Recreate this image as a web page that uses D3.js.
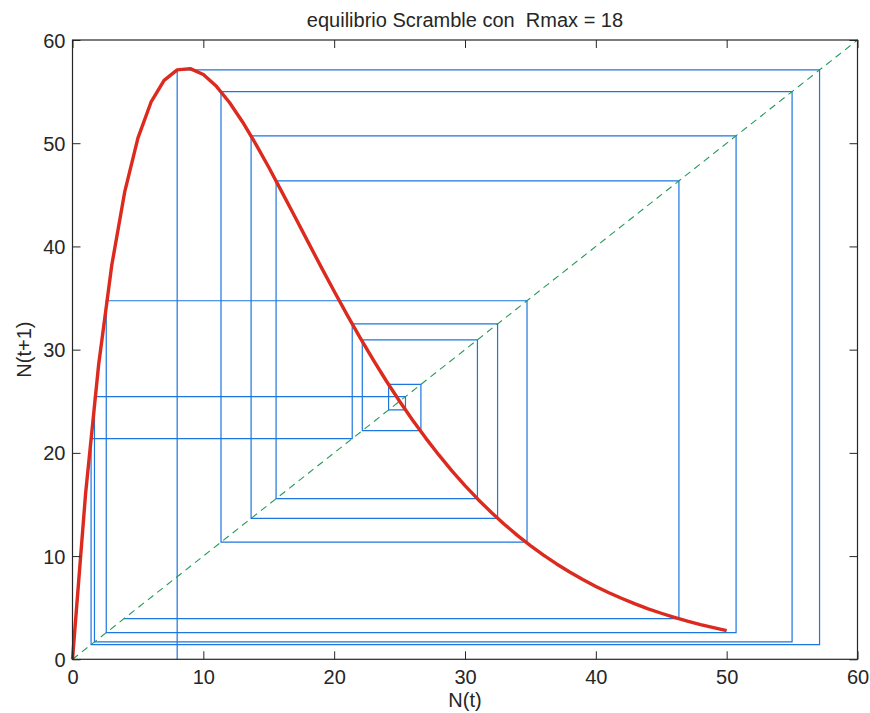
<!DOCTYPE html>
<html>
<head>
<meta charset="utf-8">
<script src="https://cdn.jsdelivr.net/npm/d3@7"></script>
<style>
  html, body { margin: 0; padding: 0; background: #fff; }
  svg { display: block; }
  text { font-family: "Liberation Sans", Arial, Helvetica, sans-serif; fill: #262626; white-space: pre; }
</style>
</head>
<body>
<svg id="chart" width="870" height="713"></svg>
<script>
// ---- data ----
const titleText = "equilibrio Scramble con  Rmax = 18";
const xLabel = "N(t)";
const yLabel = "N(t+1)";
const xTicks = [0, 10, 20, 30, 40, 50, 60];
const yTicks = [0, 10, 20, 30, 40, 50, 60];

// red curve: N(t) -> N(t+1)
const curveN = [0,1,2,3,4,5,6,7,8,9,10,11,12,13,14,15,16,17,18,19,20,21,22,23,24,25,
  26,27,28,29,30,31,32,33,34,35,36,37,38,39,40,41,42,43,44,45,46,47,48,49,50];
const curveNext = [0,16.04,28.57,38.17,45.34,50.49,53.97,56.09,57.11,57.23,56.65,55.51,53.94,
  52.06,49.94,47.67,45.29,42.87,40.44,38.02,35.66,33.35,31.12,28.99,26.94,25.00,23.16,21.43,
  19.80,18.26,16.83,15.49,14.25,13.09,12.01,11.02,10.09,9.24,8.46,7.73,7.06,6.45,5.89,5.37,
  4.89,4.46,4.06,3.69,3.36,3.06,2.78];

// cobweb trajectory (successive populations)
const trajectory = [8.0, 57.1, 1.42, 21.38, 32.49, 13.65, 50.72, 2.58, 34.74, 11.35, 55.0,
  1.68, 25.45, 24.16, 26.63, 22.15, 30.95, 15.56, 46.35, 3.95];

// identity line
const diagonal = [0, 60];

// ---- layout ----
const svg = d3.select("#chart");
const mLeft = 72.5, mRight = 857.5, mTop = 40, mBottom = 659.3;
const x = d3.scaleLinear().domain([0, 60]).range([mLeft, mRight]);
const y = d3.scaleLinear().domain([0, 60]).range([mBottom, mTop]);
const axisColor = "#262626";
const fs = 20;

// cobweb
const cob = [[trajectory[0], 0]];
for (let i = 0; i < trajectory.length - 1; i++) {
  cob.push([trajectory[i], trajectory[i + 1]]);
  cob.push([trajectory[i + 1], trajectory[i + 1]]);
}
const line = d3.line().x(d => x(d[0])).y(d => y(d[1]));

svg.append("path")
  .attr("d", line(cob))
  .attr("fill", "none")
  .attr("stroke", "#1c76de")
  .attr("stroke-width", 1.2)
  .attr("stroke-linejoin", "miter");

// diagonal
svg.append("path")
  .attr("d", line(diagonal.map(v => [v, v])))
  .attr("fill", "none")
  .attr("stroke", "#1f9d55")
  .attr("stroke-width", 1.1)
  .attr("stroke-dasharray", "7,5");

// red curve
svg.append("path")
  .attr("d", line(curveN.map((n, i) => [n, curveNext[i]])))
  .attr("fill", "none")
  .attr("stroke", "#dc2a1e")
  .attr("stroke-width", 3.4)
  .attr("stroke-linejoin", "round")
  .attr("stroke-linecap", "butt");

// axes with inward ticks on all four sides
const tl = 8;
const gB = svg.append("g").attr("transform", `translate(0,${mBottom})`)
  .call(d3.axisBottom(x).tickValues(xTicks).tickSize(-tl).tickFormat(d3.format("d")));
const gT = svg.append("g").attr("transform", `translate(0,${mTop})`)
  .call(d3.axisTop(x).tickValues(xTicks).tickSize(-tl).tickFormat(""));
const gL = svg.append("g").attr("transform", `translate(${mLeft},0)`)
  .call(d3.axisLeft(y).tickValues(yTicks).tickSize(-tl).tickFormat(d3.format("d")));
const gR = svg.append("g").attr("transform", `translate(${mRight},0)`)
  .call(d3.axisRight(y).tickValues(yTicks).tickSize(-tl).tickFormat(""));

[gB, gT, gL, gR].forEach(g => {
  g.select(".domain").remove();
  g.selectAll(".tick line").attr("stroke", axisColor).attr("stroke-width", 1);
  g.selectAll(".tick text").attr("font-size", fs).attr("fill", axisColor)
    .style("font-family", '"Liberation Sans", Arial, sans-serif');
});
gB.selectAll(".tick text").attr("y", 11).attr("dy", "0.71em");
gL.selectAll(".tick text").attr("x", -7).attr("dy", "0.35em");

// box
svg.append("rect")
  .attr("x", mLeft).attr("y", mTop)
  .attr("width", mRight - mLeft).attr("height", mBottom - mTop)
  .attr("fill", "none").attr("stroke", axisColor).attr("stroke-width", 1.2);

// title and labels
svg.append("text").attr("x", (mLeft + mRight) / 2).attr("y", 27)
  .attr("xml:space", "preserve")
  .attr("text-anchor", "middle").attr("font-size", fs).text(titleText);
svg.append("text").attr("x", (mLeft + mRight) / 2).attr("y", 707)
  .attr("text-anchor", "middle").attr("font-size", fs).text(xLabel);
svg.append("text").attr("transform", `translate(31,${(mTop + mBottom) / 2}) rotate(-90)`)
  .attr("text-anchor", "middle").attr("font-size", fs).text(yLabel);
</script>
</body>
</html>
